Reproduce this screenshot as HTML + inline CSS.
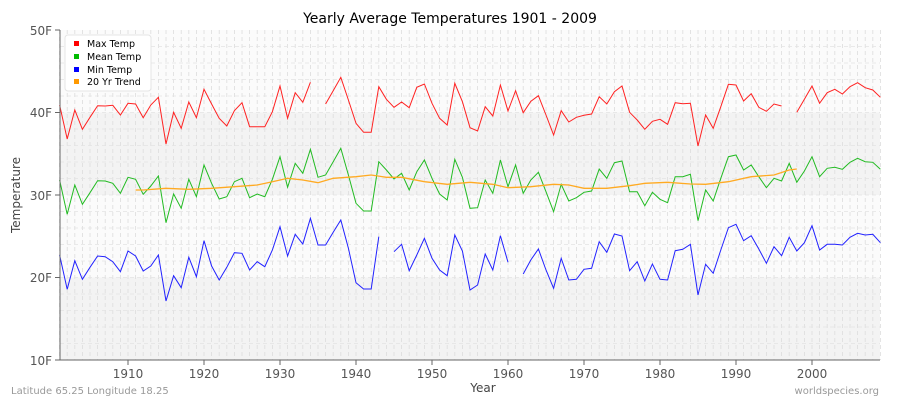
<!DOCTYPE html>
<html><head><meta charset="utf-8"><style>
body{margin:0;background:#fff;}
svg text{font-family:"DejaVu Sans","Liberation Sans",sans-serif;}
</style></head><body>
<svg id="s" width="900" height="400" xmlns="http://www.w3.org/2000/svg">
<rect width="900" height="400" fill="#fff"/>
<text x="450" y="23" text-anchor="middle" font-size="14" fill="#000">Yearly Average Temperatures 1901 - 2009</text>
<rect x="60" y="30" width="820" height="82.5" fill="#fbfbfb"/>
<rect x="60" y="112.5" width="820" height="82.5" fill="#f3f3f3"/>
<rect x="60" y="195" width="820" height="82.5" fill="#fbfbfb"/>
<rect x="60" y="277.5" width="820" height="82.5" fill="#f3f3f3"/>
<g id="grid"></g>
<g id="series"></g>
<line x1="60" y1="30" x2="60" y2="360" stroke="#666" stroke-width="1"/>
<line x1="60" y1="360" x2="880" y2="360" stroke="#666" stroke-width="1"/>
<g stroke="#666"><line x1="55" y1="30" x2="60" y2="30"/><line x1="55" y1="112.5" x2="60" y2="112.5"/><line x1="55" y1="195" x2="60" y2="195"/><line x1="55" y1="277.5" x2="60" y2="277.5"/><line x1="55" y1="360" x2="60" y2="360"/></g>
<g font-size="12" fill="#555" text-anchor="end"><text x="52" y="35">50F</text><text x="52" y="117">40F</text><text x="52" y="200">30F</text><text x="52" y="282">20F</text><text x="52" y="365">10F</text></g>
<g id="xt" font-size="12" fill="#555" text-anchor="middle"></g>
<text x="20" y="195" font-size="12" fill="#444" text-anchor="middle" transform="rotate(-90 20 195)">Temperature</text>
<text x="483" y="392" font-size="12" fill="#444" text-anchor="middle">Year</text>
<text x="11" y="394" font-size="10" fill="#999">Latitude 65.25 Longitude 18.25</text>
<text x="879" y="394" font-size="10" fill="#999" text-anchor="end">worldspecies.org</text>
<rect x="65" y="35" width="86" height="56" rx="3" fill="#fff" stroke="#e4e4e4"/>
<g font-size="9.5" fill="#000">
<rect x="74" y="41" width="5" height="5" fill="#f00"/><text x="87" y="47">Max Temp</text>
<rect x="74" y="54" width="5" height="5" fill="#0b0"/><text x="87" y="60">Mean Temp</text>
<rect x="74" y="67" width="5" height="5" fill="#00f"/><text x="87" y="73">Min Temp</text>
<rect x="74" y="79" width="5" height="5" fill="#f90"/><text x="87" y="85">20 Yr Trend</text>
</g>
</svg>
<script>
var NS="http://www.w3.org/2000/svg";
function X(y){return 128+(y-1910)*7.6;}
function Y(z){return 60+z/3;}
var g=document.getElementById('grid'),s='';
for(var yr=1901;yr<=2009;yr++){var x=X(yr);s+='<line x1="'+x+'" y1="30" x2="'+x+'" y2="360" stroke="#ddd" stroke-dasharray="4,3" stroke-width="0.8"/>';}
for(var v=12;v<50;v+=2){var yy=360-(v-10)*8.25;s+='<line x1="60" y1="'+yy+'" x2="880" y2="'+yy+'" stroke="#e4e4e4" stroke-dasharray="4,3" stroke-width="0.8"/>';}
g.innerHTML=s;
var xt='';for(var yr=1910;yr<=2000;yr+=10){xt+='<line x1="'+X(yr)+'" y1="360" x2="'+X(yr)+'" y2="365" stroke="#666"/><text x="'+X(yr)+'" y="378">'+yr+'</text>';}
document.getElementById('xt').innerHTML=xt;
var red={1901:135,1902:237,1903:150,1904:208,1905:172,1906:137,1907:138,1908:136,1909:165,1910:130,1911:132,1912:173,1913:135,1914:112,1915:252,1916:157,1917:205,1918:126,1919:173,1920:88,1921:132,1922:175,1923:198,1924:152,1925:128,1926:200,1927:200,1928:200,1929:155,1930:78,1931:175,1932:98,1933:127,1934:67,1936:132,1937:92,1938:52,1939:120,1940:190,1941:217,1942:217,1943:80,1944:118,1945:142,1946:126,1947:143,1948:82,1949:72,1950:130,1951:175,1952:195,1953:70,1954:125,1955:203,1956:213,1957:140,1958:168,1959:75,1960:153,1961:92,1962:158,1963:124,1964:107,1965:165,1966:225,1967:152,1968:186,1969:172,1970:166,1971:162,1972:110,1973:132,1974:95,1975:78,1976:157,1977:180,1978:208,1979:184,1980:178,1981:193,1982:128,1983:131,1984:130,1985:258,1986:165,1987:205,1988:140,1989:73,1990:75,1991:123,1992:101,1993:142,1994:154,1995:132,1996:138,1998:157,1999:118,2000:78,2001:130,2002:98,2003:88,2004:102,2005:80,2006:68,2007:83,2008:90,2009:112};
var gr=[360,463,375,433,398,362,363,370,400,352,358,403,378,348,488,402,445,358,410,315,370,417,410,365,355,413,402,410,358,290,382,310,340,268,352,345,305,265,345,430,453,453,305,330,357,340,390,335,300,355,402,420,298,352,445,443,360,400,300,380,315,400,360,337,395,455,373,423,413,397,393,327,355,308,303,395,395,437,397,418,428,350,350,343,482,390,423,355,290,285,330,315,350,383,355,363,310,367,333,290,350,325,322,328,307,295,305,307,328];
var bl={1901:585,1902:688,1903:602,1904:658,1905:622,1906:588,1907:590,1908:605,1909:635,1910:573,1911:588,1912:633,1913:618,1914:585,1915:723,1916:647,1917:683,1918:592,1919:650,1920:542,1921:618,1922:660,1923:622,1924:578,1925:580,1926:630,1927:605,1928:620,1929:570,1930:500,1931:588,1932:523,1933:552,1934:475,1935:555,1936:555,1937:517,1938:480,1939:565,1940:668,1941:687,1942:687,1943:530,1945:575,1946:553,1947:632,1948:585,1949:535,1950:595,1951:630,1952:647,1953:525,1954:573,1955:690,1956:675,1957:582,1958:630,1959:527,1960:607,1962:642,1963:600,1964:567,1965:630,1966:685,1967:595,1968:660,1969:658,1970:628,1971:625,1972:545,1973:577,1974:522,1975:528,1976:632,1977:605,1978:663,1979:612,1980:658,1981:660,1982:572,1983:568,1984:553,1985:705,1986:613,1987:640,1988:570,1989:503,1990:493,1991:542,1992:527,1993:567,1994:610,1995:560,1996:587,1997:532,1998:573,1999:548,2000:497,2001:570,2002:553,2003:553,2004:555,2005:532,2006:520,2007:525,2008:523,2009:548};
var tr=[[1911,390],[1912,390],[1915,385],[1918,388],[1921,385],[1924,380],[1927,375],[1929,365],[1931,355],[1933,360],[1935,368],[1937,355],[1940,350],[1942,345],[1944,352],[1946,352],[1949,365],[1952,373],[1955,367],[1958,373],[1960,383],[1963,380],[1966,373],[1968,375],[1970,385],[1973,385],[1976,377],[1978,370],[1981,367],[1984,372],[1986,373],[1989,365],[1992,350],[1995,345],[1997,330],[1998,327]];
var out='';
function segs(obj,col){var cur=[];for(var y=1901;y<=2009;y++){if(obj[y]!==undefined){cur.push(X(y).toFixed(1)+','+Y(obj[y]).toFixed(1));}else{if(cur.length)out+='<polyline points="'+cur.join(' ')+'" fill="none" stroke="'+col+'" stroke-width="1"/>';cur=[];}}if(cur.length)out+='<polyline points="'+cur.join(' ')+'" fill="none" stroke="'+col+'" stroke-width="1"/>';}
var go={};gr.forEach(function(v,i){go[1901+i]=v;});
segs(red,'#f22');segs(go,'#2b2');segs(bl,'#22f');
out+='<polyline points="'+tr.map(function(p){return X(p[0]).toFixed(1)+','+Y(p[1]).toFixed(1);}).join(' ')+'" fill="none" stroke="#fa2" stroke-width="1.3"/>';
document.getElementById('series').innerHTML=out;
</script>
</body></html>
